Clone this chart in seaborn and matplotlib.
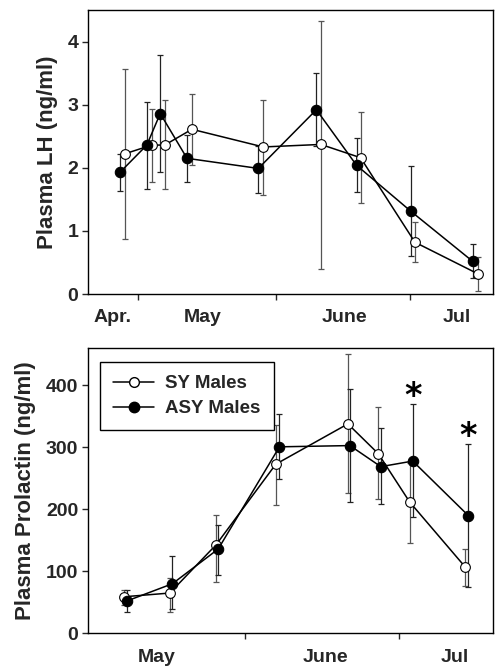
import numpy as np
import pandas as pd
import matplotlib
matplotlib.use("Agg")
import matplotlib.pyplot as plt
import seaborn as sns
from matplotlib.lines import Line2D

# ---------------- data (x = days since May 1) ----------------
series_names = ["SY Males", "ASY Males"]

# Top panel: Plasma LH (ng/ml)
sy_x_top = [-3.0, 3.1, 6.0, 12.1, 28.1, 41.0, 49.9, 62.1, 76.2]
sy_lh = [2.22, 2.36, 2.36, 2.61, 2.33, 2.37, 2.16, 0.82, 0.32]
sy_lh_lo = [0.87, 1.77, 1.67, 2.05, 1.57, 0.40, 1.44, 0.50, 0.04]
sy_lh_hi = [3.57, 2.93, 3.07, 3.17, 3.08, 4.32, 2.88, 1.14, 0.59]

asy_x_top = [-4.0, 2.0, 5.0, 11.0, 27.0, 40.0, 49.0, 61.2, 75.0]
asy_lh = [1.93, 2.36, 2.86, 2.15, 1.99, 2.92, 2.04, 1.31, 0.52]
asy_lh_lo = [1.63, 1.67, 1.93, 1.78, 1.60, 2.35, 1.61, 0.60, 0.25]
asy_lh_hi = [2.22, 3.05, 3.78, 2.52, 2.35, 3.50, 2.47, 2.03, 0.79]

# Bottom panel: Plasma Prolactin (ng/ml)
sy_x_bot = [7.5, 16.4, 25.4, 37.0, 51.0, 56.9, 63.0, 73.8]
sy_prl = [59, 65, 143, 273, 338, 290, 212, 107]
sy_prl_lo = [45, 35, 83, 207, 226, 216, 146, 76]
sy_prl_hi = [70, 90, 191, 337, 451, 365, 275, 136]

asy_x_bot = [8.0, 16.9, 25.8, 37.7, 51.4, 57.4, 63.6, 74.4]
asy_prl = [52, 80, 136, 301, 303, 269, 278, 190]
asy_prl_lo = [35, 39, 94, 249, 212, 208, 187, 75]
asy_prl_hi = [70, 124, 175, 354, 394, 331, 370, 305]

signif_idx = [6, 7]  # ASY points marked with *

# month boundaries and labels
top_month_ticks = [0, 31, 61]
top_month_label_pos = [-5.6, 14.6, 46.4, 71.5]
top_month_labels = ["Apr.", "May", "June", "Jul"]
bot_month_ticks = [31, 61]
bot_month_label_pos = [13.8, 46.6, 71.8]
bot_month_labels = ["May", "June", "Jul"]

lh_yticks = [0, 1, 2, 3, 4]
prl_yticks = [0, 100, 200, 300, 400]

# ---------------- style ----------------
sns.set_style("ticks")
plt.rcParams["font.family"] = ["Liberation Sans", "DejaVu Sans"]
plt.rcParams["font.weight"] = "bold"

fig = plt.figure(figsize=(4.97, 6.67), dpi=100)
ax1 = fig.add_axes([0.177, 0.5592, 0.815, 0.4258])
ax2 = fig.add_axes([0.177, 0.0505, 0.815, 0.4273])

def draw(ax, x, y, lo, hi, filled, ecolor):
    y = np.asarray(y, float)
    yerr = [y - np.asarray(lo, float), np.asarray(hi, float) - y]
    ax.errorbar(x, y, yerr=yerr, fmt="none", ecolor=ecolor, elinewidth=0.9,
                capsize=2.2, capthick=0.9, zorder=2)
    df = pd.DataFrame({"x": x, "y": y})
    sns.lineplot(data=df, x="x", y="y", ax=ax, color="black", linewidth=1.1,
                 marker="o", markersize=7.5 if filled else 7,
                 markerfacecolor="black" if filled else "white",
                 markeredgecolor="black", markeredgewidth=0.8,
                 sort=False, zorder=3)

draw(ax1, sy_x_top, sy_lh, sy_lh_lo, sy_lh_hi, False, "#555555")
draw(ax1, asy_x_top, asy_lh, asy_lh_lo, asy_lh_hi, True, "#222222")
draw(ax2, sy_x_bot, sy_prl, sy_prl_lo, sy_prl_hi, False, "#555555")
draw(ax2, asy_x_bot, asy_prl, asy_prl_lo, asy_prl_hi, True, "#222222")

for i in signif_idx:
    ax2.text(asy_x_bot[i], asy_prl_hi[i] + 12, "*", ha="center", va="center",
             fontsize=24, fontweight="bold", color="black",
             family=["DejaVu Sans"])

def style(ax, xlim, ylim, yticks, ticks, lpos, labels, ylabel):
    ax.set_xlim(*xlim)
    ax.set_ylim(*ylim)
    ax.set_yticks(yticks)
    ax.set_yticklabels([str(v) for v in yticks], fontsize=14, fontweight="bold")
    ax.set_xticks(ticks)
    ax.set_xticklabels([])
    ax.set_xticks(lpos, minor=True)
    ax.set_xticklabels(labels, minor=True, fontsize=14, fontweight="bold")
    ax.tick_params(axis="x", which="minor", length=0, pad=11)
    ax.tick_params(axis="x", which="major", length=4, width=1, direction="out")
    ax.tick_params(axis="y", length=4, width=1, direction="out", pad=3)
    ax.set_xlabel("")
    ax.set_ylabel(ylabel, fontsize=16, fontweight="bold", labelpad=7)
    for s in ax.spines.values():
        s.set_visible(True)
        s.set_color("black")
        s.set_linewidth(1.0)

style(ax1, (-11.2, 79.6), (0, 4.5), lh_yticks, top_month_ticks,
      top_month_label_pos, top_month_labels, "Plasma LH (ng/ml)")
style(ax2, (0.5, 79.2), (0, 460), prl_yticks, bot_month_ticks,
      bot_month_label_pos, bot_month_labels, "Plasma Prolactin (ng/ml)")

handles = [
    Line2D([], [], color="black", lw=1.1, marker="o", markersize=7,
           markerfacecolor="white", markeredgecolor="black"),
    Line2D([], [], color="black", lw=1.1, marker="o", markersize=7.5,
           markerfacecolor="black", markeredgecolor="black"),
]
leg = ax2.legend(handles, series_names, loc="upper left",
                 bbox_to_anchor=(0.02, 0.965), frameon=True, fancybox=False,
                 edgecolor="black", prop={"size": 13.5, "weight": "bold"},
                 handlelength=2.2, borderpad=0.7, labelspacing=0.42,
                 handletextpad=0.6, borderaxespad=0.2)
leg.get_frame().set_linewidth(1.0)
leg.get_frame().set_alpha(1)

fig.savefig("out.png", dpi=100)
